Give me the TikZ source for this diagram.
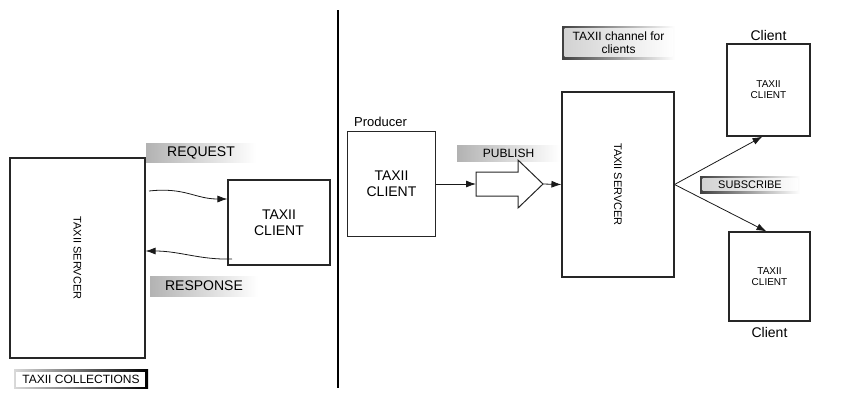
\documentclass[tikz,border=0pt]{standalone}
\usepackage{fontspec}
\setmainfont{Liberation Sans}
\usepackage{tikz}
\usetikzlibrary{arrows.meta,positioning,calc}

\begin{document}
\begin{tikzpicture}[
  x=1pt, y=-1pt,
  f10/.style={font=\fontsize{10}{11}\selectfont},
  f11/.style={font=\fontsize{11}{12}\selectfont},
  f12/.style={font=\fontsize{12}{13}\selectfont},
  f13/.style={font=\fontsize{13}{15}\selectfont},
  f14/.style={font=\fontsize{14}{16}\selectfont},
  b/.style={draw=black!85, line width=1.1pt, align=center, inner sep=0pt},
  tag/.style={left color=black!30, right color=white, inner sep=0pt, align=center},
  ftag/.style={left color=black!75, right color=white, inner sep=0pt, align=center,
    path picture={\shade[left color=black!18, right color=white]
      ([shift={(2.5pt,2.5pt)}]path picture bounding box.south west) rectangle
      ([shift={(-2.5pt,-2.5pt)}]path picture bounding box.north east);}},
  colf/.style={left color=black!15, right color=black, inner sep=0pt, align=center,
    path picture={\fill[white]
      ([shift={(2pt,2pt)}]path picture bounding box.south west) rectangle
      ([shift={(-3pt,-2pt)}]path picture bounding box.north east);}},
  pf/.style={draw=black!90, line width=0.8pt, -{Latex[length=10pt,width=7pt]}}
]
\useasboundingbox (0,0) rectangle (850,392);

% left half: request / response
\node[b, minimum width=135, minimum height=200] (srvL) at (77.5,258) {};
\node[rotate=-90, f11] (srvLtxt) at (srvL) {TAXII SERVCER};
\node[b, f14, minimum width=102, minimum height=85] (cliL) at (279,222.5) {TAXII\\CLIENT};
\node[tag, f14, minimum width=110, minimum height=19] (req) at (201,152.5) {REQUEST};
\node[tag, f14, minimum width=108, minimum height=20] (res) at (204,286) {RESPONSE};
\node[colf, f12, minimum width=134, minimum height=19] (coll) at (81,379) {TAXII COLLECTIONS};
\coordinate (reqA) at (149,191);
\coordinate (resA) at (232,259);
\draw[pf] (reqA) .. controls (185,187) and (195,199) .. ([yshift=23.5pt]cliL.west);
\draw[pf] (resA) .. controls (200,260) and (180,251) .. ([yshift=7pt]srvL.east);

\draw[line width=2pt] (338,10) -- (338,388);

% right half: publish / subscribe
\node[b, f14, minimum width=88, minimum height=105] (prod) at (391.5,184) {TAXII\\CLIENT};
\node[f13, inner sep=0pt, above right=4pt and 7pt of prod.north west] (prodLbl) {Producer};
\node[tag, f12, minimum width=103, minimum height=16] (pub) at (508.5,153) {PUBLISH};
\draw[draw=black!85, line width=1pt] (476,172) -- (518,172) -- (518,160) -- (543,184)
  -- (518,208) -- (518,196) -- (476,196) -- cycle;
\coordinate (pubTail) at (476,184);
\coordinate (pubTip) at (543,184);

\node[b, minimum width=112, minimum height=185] (srvR) at (618,184.5) {};
\node[rotate=-90, f11] (srvRtxt) at (srvR) {TAXII SERVCER};
\node[ftag, f12, minimum width=113, minimum height=33] (chan) at (618.5,42.5) {TAXII channel for\\clients};
\draw[pf] (prod.east) -- (pubTail);
\draw[pf] (pubTip) -- (srvR.west);

\node[b, f10, minimum width=83, minimum height=92] (cliT) at (768.5,90) {TAXII\\CLIENT};
\node[f14, inner sep=0pt, above=3pt of cliT] (cliTlbl) {Client};
\node[b, f10, minimum width=81, minimum height=89] (cliB) at (769.5,276.5) {TAXII\\CLIENT};
\node[f14, inner sep=0pt, below=6pt of cliB] (cliBlbl) {Client};
\node[ftag, f11, minimum width=100, minimum height=17] (sub) at (750,184.5) {SUBSCRIBE};
\draw[pf] (srvR.east) -- ([xshift=-6pt]cliT.south);
\draw[pf] (srvR.east) -- ([xshift=-3pt]cliB.north);
\end{tikzpicture}
\end{document}
